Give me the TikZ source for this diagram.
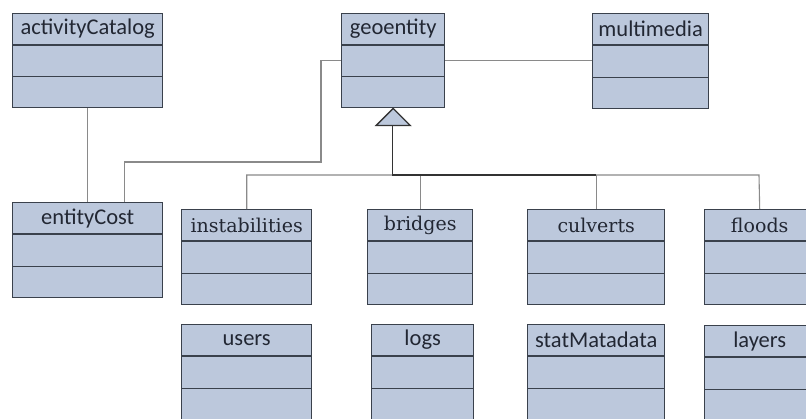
\documentclass[tikz,border=0pt]{standalone}
\usepackage{fontspec}
\usetikzlibrary{calc}
\newfontfamily\classsans{Carlito}
\newfontfamily\classserif{DejaVu Serif}

\definecolor{boxfill}{HTML}{BCC8DC}
\definecolor{boxline}{HTML}{3A414C}
\definecolor{inktext}{HTML}{222733}
\definecolor{linkgray}{HTML}{8A8A8A}
\definecolor{trunkdark}{HTML}{333333}

\tikzset{
  cls/.style={draw=boxline, fill=boxfill, line width=1.4pt, rectangle, inner sep=0pt},
  divider/.style={draw=boxline, line width=1.4pt},
  sanslabel/.style={font=\classsans\fontsize{22.5}{24}\selectfont, text=inktext, inner sep=0pt},
  seriflabel/.style={font=\classserif\fontsize{19}{21}\selectfont, text=inktext, inner sep=0pt},
  assoc/.style={draw=linkgray, line width=1.1pt},
  trunk/.style={draw=trunkdark, line width=1.5pt},
  genarrow/.style={draw=trunkdark, fill=boxfill, line width=1.3pt, line join=miter},
}

% UML class box: name, left x, top y, width, height, label style, title
\newcommand\umlclass[7]{%
  \node[cls, minimum width=#4pt, minimum height=#5pt, anchor=north west] (#1) at (#2,#3) {};
  \draw[divider] ($(#1.north west)!1/3!(#1.south west)$) -- ($(#1.north east)!1/3!(#1.south east)$);
  \draw[divider] ($(#1.north west)!2/3!(#1.south west)$) -- ($(#1.north east)!2/3!(#1.south east)$);
  \node[#6] (#1-title) at ($(#1.north)!1/6!(#1.south)$) {#7};
}

\begin{document}
\begin{tikzpicture}[x=1pt, y=-1pt]
\useasboundingbox (0,0) rectangle (806,418);
\fill[white] (0,0) rectangle (806,418);

% connectors first, so boxes sit on top
\coordinate (bendA) at (321,162);
\coordinate (busL) at (247,175);
\coordinate (busR) at (759,175);
\coordinate (trunkTop) at (392.5,124);

% classes, top row
\umlclass{ac}{12}{13}{150}{94}{sanslabel}{activityCatalog}
\umlclass{geo}{341}{13}{103}{94}{sanslabel}{geoentity}
\umlclass{mm}{592}{13}{116}{95}{sanslabel}{multimedia}

% classes, middle row
\umlclass{ec}{12}{202}{150}{95}{sanslabel}{entityCost}
\umlclass{inst}{181}{209}{130}{95}{seriflabel}{instabilities}
\umlclass{brg}{367}{209}{105}{95}{seriflabel}{bridges}
\umlclass{culv}{527}{209}{137}{95}{seriflabel}{culverts}
\umlclass{fld}{704}{209}{110}{95}{seriflabel}{floods}

% classes, bottom row
\umlclass{usr}{181}{324}{130}{95}{sanslabel}{users}
\umlclass{logs}{371}{324}{102}{95}{sanslabel}{logs}
\umlclass{stat}{527}{324}{137}{95}{sanslabel}{statMatadata}
\umlclass{lay}{704}{325}{110}{95}{sanslabel}{layers}

% associations
\draw[assoc] (ac.south) -- (ec.north);
\draw[assoc] (geo.west) -| (bendA) -| ([xshift=37pt]ec.north);
\draw[assoc] (geo.east) -- (mm.west |- geo.east);

% generalisation bus
\draw[assoc] (inst.north) |- (busL) -- (busR) -- (fld.north);
\draw[assoc] (brg.north) -- (brg.north |- busL);
\draw[assoc] (culv.north) -- (culv.north |- busL);
\draw[trunk] (trunkTop) |- (culv.north |- busL);

% hollow triangle of the generalisation
\draw[genarrow] (geo.south) -- ++(-17,17) -- ++(34,0) -- cycle;
\end{tikzpicture}
\end{document}
